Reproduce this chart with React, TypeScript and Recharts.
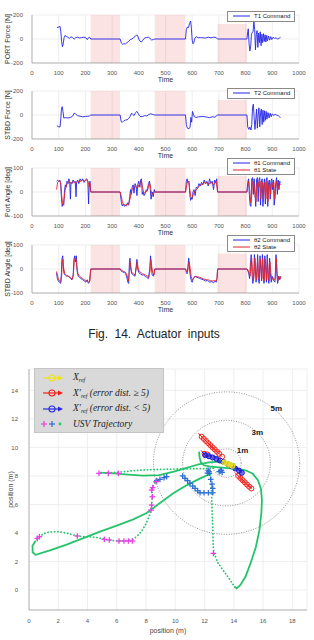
import React from 'react';
import {
  LineChart,
  Line,
  XAxis,
  YAxis,
  CartesianGrid,
  ReferenceArea,
  ComposedChart,
  Scatter,
} from 'recharts';

type Pt = [number, number];

// ---- actuator input panels ----
const timeTicks = [0, 100, 200, 300, 400, 500, 600, 700, 800, 900, 1000];
const forceTicks = [-200, 0, 200];
const angleTicks = [-100, 0, 100];
const idleSpans: Pt[] = [[220, 330], [460, 575], [695, 805]];

const t1Command: Pt[] = [
  [93, 95], [100, 100], [105, 105], [108, 60], [111, -20], [114, -65], [117, -40], [120, 10], [124, 30], [128, 22],
  [134, 15], [140, 5], [146, 18], [152, 12], [158, 0], [164, 12], [170, 15], [178, 8], [186, 12], [194, 15],
  [202, 10], [207, -5], [211, 10], [216, 15], [220, 0],
  [330, 0], [335, -35], [340, -45], [345, -38], [350, -42], [356, -30], [362, -20], [368, -5], [374, 0], [380, 10],
  [386, 20], [392, 35], [396, 25], [400, 0], [405, -20], [410, -25], [415, -10], [420, 5], [428, 12], [436, 15],
  [442, 5], [448, -8], [455, -5], [460, 0],
  [575, 0], [578, 80], [582, 100], [586, 95], [590, 130], [594, 150], [597, 90], [600, -10], [603, -40], [606, -30],
  [610, 5], [615, 20], [622, 10], [630, 12], [640, 10], [650, 8], [660, 15], [670, 10], [680, 15], [690, 12], [695, 0],
  [805, 0], [808, 60], [810, 85], [813, -40], [816, -100], [819, -60], [822, 40], [825, 55], [828, 60], [831, 150],
  [834, 80], [837, -90], [840, 40], [843, 70], [846, -70], [849, 50], [852, -30], [855, 60], [858, -55], [861, 40],
  [864, -30], [867, 45], [870, -20], [873, 35], [876, -25], [879, 30], [882, -15], [886, 25], [890, -10], [894, 20],
  [898, -5], [903, 15], [908, 5], [914, 10], [920, 0], [925, 5], [931, 15],
];

const t2Command: Pt[] = [
  [93, -90], [100, -98], [105, -100], [108, -30], [110, 40], [113, 70], [116, 30], [119, -25], [125, -22], [135, -25],
  [145, -20], [152, -10], [158, 15], [163, 10], [170, -5], [180, -10], [190, -15], [200, -12], [210, -10], [216, -8], [220, 0],
  [330, 0], [334, -55], [338, -62], [344, -48], [350, -42], [356, -40], [362, -30], [368, -10], [373, 15], [377, 5],
  [382, -5], [388, 20], [393, 30], [397, 15], [402, -5], [408, -15], [415, -12], [422, -5], [430, -8], [438, 5],
  [445, 10], [452, 5], [460, 0],
  [575, 0], [578, -80], [582, -110], [588, -115], [592, -100], [595, -20], [598, -60], [601, 30], [604, 10], [608, -15],
  [615, -20], [625, -15], [640, -12], [655, -18], [665, -22], [675, -15], [685, -18], [695, 0],
  [805, 0], [808, -100], [812, -120], [816, -100], [820, -125], [823, -80], [826, 60], [829, 90], [832, -20], [835, -120],
  [838, -40], [841, 50], [844, -110], [847, 0], [850, 60], [853, -100], [856, 20], [859, 50], [862, -80], [865, 40],
  [868, -60], [871, 35], [874, -45], [877, 30], [880, -35], [884, 20], [888, -25], [892, 15], [896, -15], [900, 10],
  [905, -5], [910, 5], [916, 0], [922, -5], [927, -15], [931, -20],
];

const th1Command: Pt[] = [
  [92, 45], [96, 48], [100, 45], [104, 50], [107, 40], [110, -20], [113, -60], [116, -50], [119, -55], [122, 10],
  [125, 30], [128, 20], [131, 45], [135, 35], [138, 55], [141, 45], [144, -30], [146, 40], [150, 35], [154, 50],
  [158, 40], [162, 45], [165, -20], [167, 40], [171, 50], [175, 35], [180, 55], [185, 45], [190, 55], [195, 40],
  [200, 50], [205, 55], [209, 45], [212, -50], [214, 20], [217, 45], [220, 0],
  [330, 0], [335, -45], [338, -58], [342, -50], [346, -60], [350, -55], [354, -58], [358, -45], [362, -55], [366, -20],
  [369, 10], [372, -10], [375, 20], [379, 30], [382, -5], [386, 35], [390, 25], [393, -15], [396, 30], [400, 45],
  [404, 20], [407, 50], [410, 55], [413, -10], [416, 0], [420, -15], [424, -5], [428, 10], [432, 5], [436, 35],
  [440, 45], [443, 10], [446, -30], [450, 0], [454, -20], [458, 10], [460, 0],
  [575, 0], [578, 45], [581, 55], [584, 40], [588, 45], [591, -10], [594, -35], [597, -25], [600, -30], [603, 0],
  [607, 10], [611, -15], [615, 20], [620, 15], [625, 35], [630, 25], [635, 40], [640, 30], [645, 50], [650, 35],
  [655, 45], [660, 25], [665, 55], [670, 35], [675, 45], [680, 10], [684, 50], [688, 40], [692, 55], [695, 0],
  [805, 0], [808, 40], [811, 55], [814, -10], [817, -55], [820, -60], [823, 55], [826, 60], [829, -10], [832, 55],
  [835, 0], [838, -60], [841, 50], [844, 60], [847, -40], [850, 50], [853, 60], [856, -55], [859, 40], [862, 55],
  [865, -60], [868, 30], [871, 55], [874, -50], [877, 45], [880, 60], [883, -60], [886, 40], [889, 50], [892, -30],
  [895, 45], [898, 55], [901, 10], [904, 50], [907, -55], [910, -20], [913, 40], [916, 60], [919, -10], [922, 50],
  [925, 10], [928, 45], [931, 40],
];

const th1State: Pt[] = [
  [92, 10], [96, 40], [100, 45], [105, 45], [108, 30], [111, -10], [114, -45], [117, -55], [120, -30], [124, 5],
  [128, 25], [132, 35], [137, 45], [142, 40], [147, 35], [152, 45], [158, 40], [163, 35], [168, 40], [173, 45],
  [178, 40], [184, 48], [190, 50], [196, 45], [202, 50], [207, 50], [211, 40], [214, 20], [217, 35], [220, 0],
  [330, 0], [335, -20], [339, -45], [344, -52], [350, -55], [356, -52], [362, -50], [367, -30], [371, -5], [375, 10],
  [380, 20], [385, 25], [390, 20], [395, 15], [400, 30], [405, 35], [410, 45], [414, 20], [418, 0], [423, -5],
  [428, 0], [433, 10], [438, 30], [442, 35], [446, 5], [451, -10], [456, 0], [460, 0],
  [575, 0], [579, 25], [583, 45], [587, 40], [591, 10], [595, -20], [599, -25], [604, -10], [609, 0], [615, 10],
  [620, 15], [626, 25], [632, 30], [638, 30], [644, 40], [650, 35], [656, 40], [662, 30], [668, 40], [674, 40],
  [680, 30], [685, 35], [690, 45], [695, 0],
  [805, 0], [809, 30], [812, 45], [816, 0], [819, -45], [822, -30], [825, 40], [828, 45], [832, 30], [836, -20],
  [839, -40], [843, 40], [846, 45], [850, 20], [854, 45], [857, -30], [861, 30], [864, 40], [867, -40], [870, 20],
  [873, 40], [876, -30], [880, 45], [884, -40], [887, 30], [891, 35], [894, -10], [898, 40], [902, 20], [906, 40],
  [909, -30], [913, 20], [917, 45], [921, 10], [925, 30], [929, 35], [932, 30],
];

const th2Command: Pt[] = [
  [92, -15], [95, -40], [99, -50], [103, -55], [107, -60], [110, -20], [112, 40], [115, 55], [117, 10], [120, -20],
  [125, -25], [130, -30], [135, -28], [140, -35], [145, -40], [150, -45], [154, -30], [157, 40], [160, 55], [163, 30],
  [166, 55], [169, -10], [173, -30], [178, -35], [184, -40], [190, -45], [196, -50], [202, -55], [207, -45], [211, -60],
  [215, -55], [220, 0],
  [330, 0], [335, -10], [340, -12], [346, -15], [351, -20], [355, -35], [359, -55], [362, -60], [365, 30], [367, 45],
  [370, 0], [374, -20], [380, -25], [386, -30], [390, 10], [393, 40], [396, 0], [400, -15], [406, -20], [412, -25],
  [418, -25], [424, -30], [430, -35], [436, -40], [441, 0], [444, 55], [447, 10], [450, -25], [455, -30], [460, 0],
  [575, 0], [578, -15], [581, -20], [584, 10], [587, 45], [590, 0], [593, -30], [597, -50], [600, -55], [604, -40],
  [610, -30], [618, -35], [626, -38], [634, -42], [642, -45], [650, -50], [658, -48], [666, -55], [674, -52], [680, -58],
  [686, -50], [690, -55], [693, -40], [695, 0],
  [805, 0], [809, -10], [812, -20], [815, -40], [818, 20], [821, 60], [824, -20], [827, -60], [830, -40], [833, 60],
  [836, 10], [839, -55], [842, -30], [845, 60], [848, -40], [851, -60], [854, 55], [857, 0], [860, -50], [863, 60],
  [866, -20], [869, -60], [872, 55], [875, 10], [878, -55], [881, 60], [884, -30], [887, -60], [890, 45], [893, -20],
  [896, -55], [899, -30], [902, -40], [906, -50], [910, -55], [914, 60], [917, -20], [920, -60], [924, -30], [928, -45],
  [932, -30],
];

const th2State: Pt[] = [
  [92, -10], [96, -30], [100, -45], [104, -50], [108, -55], [111, -30], [113, 25], [116, 40], [119, 0], [123, -20],
  [128, -25], [134, -30], [140, -32], [146, -38], [151, -42], [155, -20], [158, 30], [161, 45], [165, 40], [168, 10],
  [172, -20], [178, -30], [184, -35], [190, -40], [196, -45], [202, -48], [208, -50], [213, -55], [217, -50], [220, 0],
  [330, 0], [336, -5], [342, -10], [348, -12], [353, -18], [357, -30], [361, -50], [364, -20], [367, 30], [370, 10],
  [374, -15], [380, -20], [386, -25], [390, 0], [394, 30], [397, 5], [402, -10], [408, -15], [414, -20], [420, -22],
  [426, -25], [432, -30], [437, -35], [442, -10], [445, 40], [448, 15], [452, -15], [457, -25], [460, 0],
  [575, 0], [579, -10], [583, -10], [586, 20], [589, 30], [592, 5], [596, -30], [600, -45], [605, -40], [612, -30],
  [620, -32], [628, -35], [636, -38], [644, -42], [652, -45], [660, -45], [668, -48], [676, -50], [684, -48], [690, -50],
  [693, -40], [695, 0],
  [805, 0], [810, -5], [814, -20], [817, -30], [820, 30], [823, 45], [826, -10], [829, -50], [832, -20], [835, 45],
  [838, 0], [841, -45], [845, 40], [848, -20], [852, -50], [855, 40], [858, 10], [861, -40], [864, 45], [867, -10],
  [870, -50], [873, 40], [876, 0], [879, -45], [882, 45], [885, -20], [888, -50], [891, 30], [894, -10], [898, -45],
  [902, -35], [906, -45], [911, -40], [915, 45], [918, -10], [921, -50], [925, -30], [929, -40], [932, -30],
];

// ---- trajectory plot ----
const posXTicks = [0, 2, 4, 6, 8, 10, 12, 14, 16, 18];
const posYTicks = [0, 2, 4, 6, 8, 10, 12, 14];

const ringCenter: Pt = [13.5, 8.9];
const ringRadii = [1, 3, 5];
const ringLabels = [
  { x: 14.6, y: 9.75, text: '1m' },
  { x: 15.6, y: 11.05, text: '3m' },
  { x: 16.9, y: 12.7, text: '5m' },
];

const solidLoop: Pt[] = [
  [11.62, 9.7], [11.66, 9.3], [11.75, 8.95], [11.95, 8.75], [12.4, 8.65], [13.0, 8.6], [13.6, 8.55], [14.2, 8.5],
  [14.8, 8.4], [15.3, 8.15], [15.65, 7.7], [15.85, 7.1], [15.92, 6.3], [15.88, 5.4], [15.75, 4.2], [15.5, 3.0],
  [15.15, 1.9], [14.8, 0.95], [14.45, 0.35], [14.2, 0.12], [14.02, 0.25],
];
const solidDiagonal: Pt[] = [
  [12.3, 8.1], [11.7, 7.83], [10.8, 7.36], [9.86, 6.78], [8.95, 6.1], [8.04, 5.4], [7.13, 4.96], [6.0, 4.52],
  [4.85, 4.09], [3.71, 3.64], [2.57, 3.18], [1.43, 2.78], [0.45, 2.47], [0.25, 2.65], [0.24, 3.1], [0.45, 3.45],
];
const solidTop: Pt[] = [
  [4.85, 8.23], [5.8, 8.18], [6.8, 8.1], [7.8, 8.02], [8.9, 8.06], [9.9, 8.3], [10.9, 8.6], [11.6, 8.82],
  [12.3, 8.95], [13.0, 9.0], [13.6, 8.95], [14.1, 8.8],
];
const dottedTop: Pt[] = [
  [5.4, 8.22], [6.5, 8.3], [7.5, 8.4], [8.6, 8.45], [9.8, 8.48], [11.0, 8.5], [12.0, 8.52], [12.8, 8.55],
];
const dottedWest: Pt[] = [
  [8.73, 7.67], [8.5, 7.35], [8.4, 7.0], [8.42, 6.5], [8.38, 5.96], [8.3, 5.5], [8.1, 4.9], [7.8, 4.3], [7.4, 3.8],
  [6.9, 3.5], [6.2, 3.44], [5.5, 3.5], [4.6, 3.68], [3.3, 3.8], [2.5, 4.0], [1.9, 4.1], [1.3, 4.05], [0.8, 3.8], [0.5, 3.5],
];
const dottedSouth: Pt[] = [
  [12.4, 8.1], [12.46, 7.15], [12.51, 5.75], [12.56, 4.35], [12.6, 2.95], [12.78, 2.24], [13.17, 1.54], [13.74, 0.72], [14.0, 0.3],
];

const magentaMarks: Pt[] = [
  [4.78, 8.18], [5.42, 8.18], [6.11, 8.18], [3.3, 3.79], [5.15, 3.55], [5.49, 3.51], [6.15, 3.44], [6.49, 3.44],
  [6.79, 3.44], [7.06, 3.44], [0.57, 3.62], [0.71, 3.74], [8.34, 5.61], [8.38, 5.96], [8.43, 6.54], [8.38, 7.01],
  [8.45, 7.18], [8.68, 7.6], [12.6, 2.57],
];
const blueMarks: Pt[] = [
  [8.73, 7.67], [8.95, 7.76], [9.23, 7.88], [9.41, 7.95], [10.5, 8.0], [10.66, 7.83], [10.84, 7.67], [11.0, 7.48],
  [11.19, 7.29], [11.35, 7.13], [11.53, 6.96], [11.69, 6.82], [11.96, 6.82], [12.26, 6.82], [12.56, 6.82], [12.56, 7.13],
  [12.51, 7.43], [12.42, 7.76], [12.33, 8.18], [12.2, 8.2], [12.3, 8.3], [12.25, 8.4], [13.0, 8.3], [13.1, 8.35],
  [13.2, 8.25], [13.15, 8.4],
];
const refFar: Pt[] = [
  [11.8, 10.75], [11.95, 10.6], [12.1, 10.45], [12.25, 10.3], [12.4, 10.15], [12.55, 10.0], [12.7, 9.85], [12.85, 9.7],
  [13.0, 9.55], [13.2, 9.35], [12.0, 9.55], [12.2, 9.5], [14.3, 8.0], [14.45, 7.85], [14.6, 7.7], [14.75, 7.55],
  [14.9, 7.4], [15.05, 7.25], [15.2, 7.12],
];
const refNear: Pt[] = [
  [12.05, 9.45], [12.3, 9.38], [12.55, 9.3], [12.8, 9.2], [13.05, 9.08], [13.3, 8.98], [13.6, 8.82], [13.85, 8.68],
  [14.1, 8.52], [14.35, 8.38], [14.55, 8.22],
];
const refPath: Pt[] = [[13.35, 8.95], [13.55, 8.85], [13.75, 8.78], [13.9, 8.7]];

const C_BLUE = '#2424e8';
const C_RED = '#e3262b';
const C_GREEN = '#25c46c';
const C_MAGENTA = '#e93fe6';
const C_TRAJ_BLUE = '#2e6fd4';

const toTV = (pts: Pt[]) => pts.map(([t, v]) => ({ t, v }));
const toXY = (pts: Pt[]) => pts.map(([x, y]) => ({ x, y }));

function ring(r: number) {
  const out: { x: number; y: number }[] = [];
  for (let a = 0; a <= 360; a += 5) {
    const rad = (a * Math.PI) / 180;
    out.push({ x: ringCenter[0] + r * Math.cos(rad), y: ringCenter[1] + r * Math.sin(rad) });
  }
  return out;
}

type SeriesDef = { name: string; pts: Pt[]; color: string };

function PanelLegend({ items, top }: { items: SeriesDef[]; top: number }) {
  return (
    <div
      style={{
        position: 'absolute',
        left: 227,
        top,
        width: 66,
        background: '#fff',
        border: '0.6px solid #8a8a8a',
        padding: '1px 0',
        fontSize: 6,
        lineHeight: '6.5px',
        color: '#222',
      }}
    >
      {items.map((s) => (
        <div key={s.name} style={{ display: 'flex', alignItems: 'center', height: 6.5 }}>
          <svg width={26} height={6} style={{ flex: 'none' }}>
            <line x1={5} y1={3} x2={22} y2={3} stroke={s.color} strokeWidth={1} />
          </svg>
          <span>{s.name}</span>
        </div>
      ))}
    </div>
  );
}

function TimePanel(props: {
  top: number;
  series: SeriesDef[];
  domain: [number, number];
  ticks: number[];
  yLabel: string;
  legendTop: number;
  lastBandTop: number;
}) {
  const { top, series, domain, ticks, yLabel, legendTop, lastBandTop } = props;
  return (
    <div style={{ position: 'absolute', left: 0, top, width: 314, height: 77 }}>
      <LineChart width={314} height={77} margin={{ top: 10, right: 15, bottom: 0, left: 4 }}>
        <CartesianGrid stroke="#e2e2e2" strokeWidth={0.6} />
        {idleSpans.map(([a, b], i) => (
          <ReferenceArea
            key={a}
            x1={a}
            x2={b}
            y1={domain[0]}
            y2={i === idleSpans.length - 1 ? lastBandTop : domain[1]}
            fill="#ef8f8f"
            fillOpacity={0.25}
            stroke="none"
          />
        ))}
        <XAxis
          type="number"
          dataKey="t"
          domain={[0, 1000]}
          ticks={timeTicks}
          interval={0}
          allowDataOverflow
          tick={{ fontSize: 6, fill: '#555' }}
          tickLine={false}
          tickMargin={2}
          axisLine={{ stroke: '#8a8a8a', strokeWidth: 0.6 }}
          height={19}
          label={{ value: 'Time', position: 'insideBottom', offset: 0, fontSize: 7, fill: '#333' }}
        />
        <YAxis
          type="number"
          domain={domain}
          ticks={ticks}
          interval={0}
          allowDataOverflow
          width={28}
          tick={{ fontSize: 6, fill: '#555' }}
          tickLine={false}
          tickMargin={3}
          axisLine={{ stroke: '#8a8a8a', strokeWidth: 0.6 }}
          label={{
            value: yLabel,
            angle: -90,
            position: 'insideLeft',
            offset: 4,
            fontSize: 7,
            fill: '#333',
            style: { textAnchor: 'middle' },
          }}
        />
        {series.map((s) => (
          <Line
            key={s.name}
            data={toTV(s.pts)}
            dataKey="v"
            name={s.name}
            type="linear"
            stroke={s.color}
            strokeWidth={0.9}
            dot={false}
            isAnimationActive={false}
          />
        ))}
      </LineChart>
      <PanelLegend items={series} top={legendTop} />
    </div>
  );
}

const plusShape = (color: string, size: number) => (p: any) => (
  <g>
    <line x1={p.cx - size} y1={p.cy} x2={p.cx + size} y2={p.cy} stroke={color} strokeWidth={1.3} />
    <line x1={p.cx} y1={p.cy - size} x2={p.cx} y2={p.cy + size} stroke={color} strokeWidth={1.3} />
  </g>
);

const ringShape = (color: string, filled: boolean) => (p: any) => (
  <g>
    <line x1={p.cx} y1={p.cy} x2={p.cx - 3.5} y2={p.cy - 3.5} stroke={color} strokeWidth={1} />
    <circle cx={p.cx} cy={p.cy} r={2.5} stroke={color} strokeWidth={1} fill={filled ? color : 'none'} fillOpacity={0.6} />
  </g>
);

const ringTextShape = (p: any) => (
  <text x={p.cx} y={p.cy} textAnchor="middle" dominantBaseline="middle" fontSize={8} fontWeight="bold" fill="#222">
    {p.payload.text}
  </text>
);

function LegendMarker({ color }: { color: string }) {
  return (
    <svg width={24} height={8} style={{ flex: 'none' }}>
      <line x1={2} y1={4} x2={18} y2={4} stroke={color} strokeWidth={1.2} />
      <circle cx={11} cy={4} r={3} stroke={color} strokeWidth={1.1} fill="none" />
      <polygon points="17,1.5 22,4 17,6.5" fill={color} />
    </svg>
  );
}

function TrajectoryLegend() {
  const row = { display: 'flex', alignItems: 'center', height: 15.5 } as const;
  const txt = {
    fontFamily: "'Liberation Serif', serif",
    fontStyle: 'italic',
    fontSize: 9.5,
    color: '#222',
    marginLeft: 8,
    whiteSpace: 'nowrap',
  } as const;
  const sub = { fontSize: 6, verticalAlign: -2 } as const;
  return (
    <div
      style={{
        position: 'absolute',
        left: 34,
        top: 368,
        width: 130,
        height: 65,
        background: '#d9d9d9',
        border: '0.6px solid #c4c4c4',
        padding: '1px 0 0 6px',
        boxSizing: 'border-box',
      }}
    >
      <div style={row}>
        <LegendMarker color="#f2e21a" />
        <span style={txt}>X<span style={sub}>ref</span></span>
      </div>
      <div style={row}>
        <LegendMarker color="#f0201a" />
        <span style={txt}>X′<span style={sub}>ref</span> (error dist. ≥ 5)</span>
      </div>
      <div style={row}>
        <LegendMarker color="#2a2ae0" />
        <span style={txt}>X′<span style={sub}>ref</span> (error dist. &lt; 5)</span>
      </div>
      <div style={row}>
        <svg width={24} height={8} style={{ flex: 'none' }}>
          <g strokeWidth={1.2}>
            <line x1={0} y1={4} x2={6} y2={4} stroke={C_MAGENTA} />
            <line x1={3} y1={1} x2={3} y2={7} stroke={C_MAGENTA} />
            <line x1={8} y1={4} x2={14} y2={4} stroke={C_TRAJ_BLUE} />
            <line x1={11} y1={1} x2={11} y2={7} stroke={C_TRAJ_BLUE} />
          </g>
          <circle cx={19} cy={4} r={1.4} fill={C_GREEN} />
        </svg>
        <span style={txt}>USV Trajectory</span>
      </div>
    </div>
  );
}

function TrajectoryChart() {
  const dotted = { strokeDasharray: '0.1 3.2', strokeLinecap: 'round' as const };
  return (
    <div style={{ position: 'absolute', left: 0, top: 360, width: 314, height: 280 }}>
      <ComposedChart width={314} height={280} margin={{ top: 9, right: 7, bottom: 4, left: 7 }}>
        <CartesianGrid stroke="#e4e4e4" strokeWidth={0.6} />
        <XAxis
          type="number"
          dataKey="x"
          domain={[0, 19]}
          ticks={posXTicks}
          interval={0}
          allowDataOverflow
          tick={{ fontSize: 6, fill: '#555' }}
          tickLine={false}
          tickMargin={3}
          axisLine={{ stroke: '#8a8a8a', strokeWidth: 0.6 }}
          height={26}
          label={{ value: 'position (m)', position: 'insideBottom', offset: 3, fontSize: 7, fill: '#444' }}
        />
        <YAxis
          type="number"
          dataKey="y"
          domain={[-1.4, 15.5]}
          ticks={posYTicks}
          interval={0}
          allowDataOverflow
          width={22}
          tick={{ fontSize: 6, fill: '#555' }}
          tickLine={false}
          tickMargin={5}
          axisLine={{ stroke: '#8a8a8a', strokeWidth: 0.6 }}
          label={{
            value: 'position (m)',
            angle: -90,
            position: 'insideLeft',
            offset: 3.5,
            fontSize: 7,
            fill: '#444',
            style: { textAnchor: 'middle' },
          }}
        />
        {ringRadii.map((r) => (
          <Line
            key={r}
            data={ring(r)}
            dataKey="y"
            type="linear"
            stroke="#7a7a7a"
            strokeWidth={0.8}
            strokeDasharray="1 1.5"
            dot={false}
            isAnimationActive={false}
          />
        ))}
        {[dottedTop, dottedWest, dottedSouth].map((pts, i) => (
          <Line
            key={'d' + i}
            data={toXY(pts)}
            dataKey="y"
            type="monotone"
            stroke={C_GREEN}
            strokeWidth={1.8}
            {...dotted}
            dot={false}
            isAnimationActive={false}
          />
        ))}
        {[solidLoop, solidDiagonal, solidTop].map((pts, i) => (
          <Line
            key={'s' + i}
            data={toXY(pts)}
            dataKey="y"
            type="linear"
            stroke={C_GREEN}
            strokeWidth={1.8}
            dot={false}
            isAnimationActive={false}
          />
        ))}
        <Scatter data={toXY(blueMarks)} dataKey="y" shape={plusShape(C_TRAJ_BLUE, 2.8)} isAnimationActive={false} />
        <Scatter data={toXY(magentaMarks)} dataKey="y" shape={plusShape(C_MAGENTA, 2.8)} isAnimationActive={false} />
        <Scatter data={toXY(refFar)} dataKey="y" shape={ringShape('#f0201a', false)} isAnimationActive={false} />
        <Scatter data={toXY(refNear)} dataKey="y" shape={ringShape('#1c1cd8', true)} isAnimationActive={false} />
        <Scatter data={toXY(refPath)} dataKey="y" shape={ringShape('#f2e21a', true)} isAnimationActive={false} />
        <Scatter data={ringLabels} dataKey="y" shape={ringTextShape} isAnimationActive={false} />
      </ComposedChart>
      <div style={{ position: 'absolute', left: 0, top: -360 }}>
        <TrajectoryLegend />
      </div>
    </div>
  );
}

export default function App() {
  return (
    <div
      style={{
        position: 'absolute',
        left: 0,
        top: 0,
        width: 314,
        height: 640,
        background: '#fff',
        overflow: 'hidden',
        fontFamily: "'Liberation Sans', Arial, sans-serif",
      }}
    >
      <TimePanel
        top={5}
        series={[{ name: 'T1 Command', pts: t1Command, color: C_BLUE }]}
        domain={[-200, 200]}
        ticks={forceTicks}
        yLabel="PORT Force [N]"
        legendTop={6}
        lastBandTop={125}
      />
      <TimePanel
        top={81}
        series={[{ name: 'T2 Command', pts: t2Command, color: C_BLUE }]}
        domain={[-200, 200]}
        ticks={forceTicks}
        yLabel="STBD Force [N]"
        legendTop={7}
        lastBandTop={125}
      />
      <TimePanel
        top={158}
        series={[
          { name: 'θ1 Command', pts: th1Command, color: C_BLUE },
          { name: 'θ1 State', pts: th1State, color: C_RED },
        ]}
        domain={[-100, 100]}
        ticks={angleTicks}
        yLabel="Port Angle [deg]"
        legendTop={0}
        lastBandTop={68}
      />
      <TimePanel
        top={235}
        series={[
          { name: 'θ2 Command', pts: th2Command, color: C_BLUE },
          { name: 'θ2 State', pts: th2State, color: C_RED },
        ]}
        domain={[-100, 100]}
        ticks={angleTicks}
        yLabel="STBD Angle [deg]"
        legendTop={0}
        lastBandTop={65}
      />
      <div
        style={{
          position: 'absolute',
          left: 0,
          top: 327,
          width: 308,
          textAlign: 'center',
          fontFamily: "'Liberation Sans Narrow', 'Liberation Sans', Arial, sans-serif",
          fontSize: 12,
          wordSpacing: 3,
          color: '#222',
        }}
      >
        Fig. 14. Actuator inputs
      </div>
      <TrajectoryChart />
    </div>
  );
}
